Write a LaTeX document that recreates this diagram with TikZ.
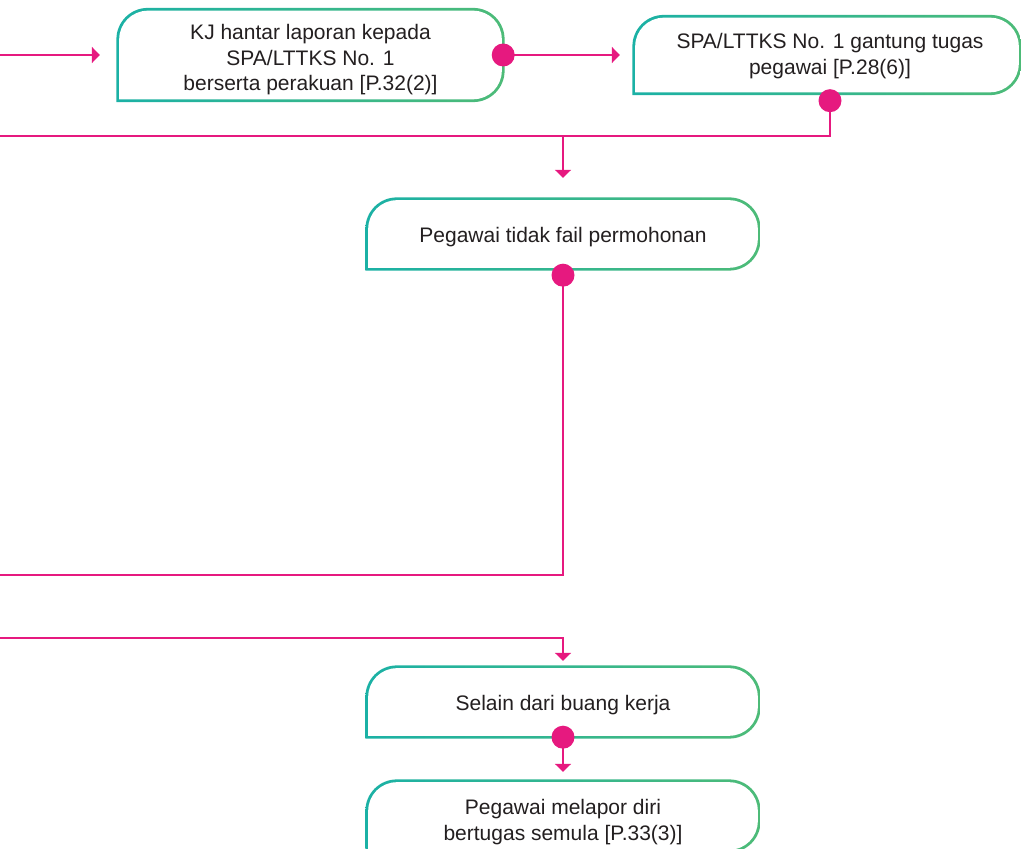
\documentclass[tikz,border=0pt]{standalone}
\usepackage{fontspec}
\setmainfont{Liberation Sans}
\usetikzlibrary{arrows.meta,backgrounds,calc}
\definecolor{pk}{HTML}{E6197F}
\definecolor{tl}{HTML}{1BB1A5}
\definecolor{gr}{HTML}{4DBB78}
\definecolor{tx}{HTML}{231F20}
\newcommand\boxp[3]{let \p1=(#1.north west), \p2=(#1.south east) in
  (\x1-#2,\y2-#2) -- (\x1-#2,\y1-30pt) arc[start angle=180,end angle=90,radius=#3]
  -- (\x2-30pt,\y1+#2) arc[start angle=90,end angle=0,radius=#3]
  -- (\x2+#2,\y2+30pt) arc[start angle=0,end angle=-90,radius=#3] -- cycle}
\newcommand\gbox[1]{%
  \path[left color=tl, right color=gr] \boxp{#1}{1.4pt}{31.4pt};
  \path[fill=white] \boxp{#1}{-1.4pt}{28.6pt};}
\begin{document}
\begin{tikzpicture}[x=1pt,y=1pt,
  bx/.style={rectangle, inner sep=0pt},
  txt/.style={inner sep=0pt, align=center, text=tx,
    font=\fontsize{21}{25.5}\selectfont},
  pkline/.style={draw=pk, line width=2.7pt},
  arr/.style={pkline, -{Triangle[length=8pt,width=16pt]}},
  dotc/.style={fill=pk}]
\useasboundingbox (0,0) rectangle (1021,849);
\clip (0,0) rectangle (1021,849);

\node[bx, minimum width=385pt, minimum height=91pt] (b1) at (310.5,794) {};
\node[bx, minimum width=386pt, minimum height=77pt] (b2) at (827,794) {};
\node[bx, minimum width=392pt, minimum height=70pt] (b3) at (563,615) {};
\node[bx, minimum width=392pt, minimum height=70pt] (b4) at (563,147) {};
\node[bx, minimum width=392pt, minimum height=70pt] (b5) at (563,33) {};

\begin{scope}[on background layer]
  \gbox{b1}\gbox{b2}\gbox{b3}\gbox{b4}\gbox{b5}
\end{scope}

\node[txt] (t1) at ([yshift=-5pt]b1.center)
  {KJ hantar laporan kepada\\SPA/LTTKS No. 1\\berserta perakuan [P.32(2)]};
\node[txt] (t2) at ([xshift=3pt,yshift=-1pt]b2.center)
  {SPA/LTTKS No. 1 gantung tugas\\pegawai [P.28(6)]};
\node[txt] (t3) at ([yshift=-3pt]b3.center) {Pegawai tidak fail permohonan};
\node[txt] (t4) at ([yshift=-3.5pt]b4.center) {Selain dari buang kerja};
\node[txt] (t5) at ([yshift=-6pt]b5.center)
  {Pegawai melapor diri\\bertugas semula [P.33(3)]};

\coordinate (in1) at (0,794);
\coordinate (out2) at (0,713);
\coordinate (out3) at (0,274);
\coordinate (in4) at (0,211);
\coordinate (d1) at (b1.east);
\coordinate (d2) at ([xshift=3pt,yshift=-7pt]b2.south);
\coordinate (d3) at ([yshift=-6pt]b3.south);
\coordinate (d4) at (b4.south);

\draw[arr] (in1) -- ([xshift=-18pt]b1.west);
\draw[arr] (d1) -- ([xshift=-14pt]b2.west);
\draw[pkline] (d2) |- (out2);
\draw[arr] (b3.north |- out2) -- ([yshift=21pt]b3.north);
\draw[pkline] (d3) |- (out3);
\draw[arr] (in4) -| ([yshift=6pt]b4.north);
\draw[arr] (d4) -- ([yshift=9pt]b5.north);

\foreach \d in {d1,d2,d3,d4} \fill[dotc] (\d) circle (11.5pt);
\end{tikzpicture}
\end{document}
